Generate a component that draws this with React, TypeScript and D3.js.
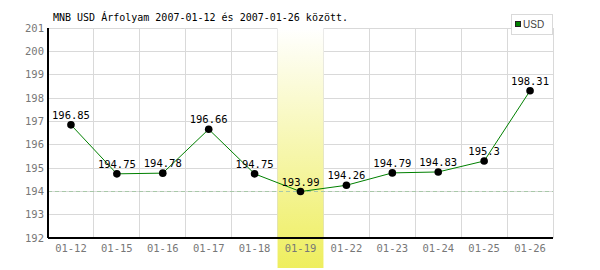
import React from "react";
import * as d3 from "d3";

const categories = ["01-12", "01-15", "01-16", "01-17", "01-18", "01-19", "01-22", "01-23", "01-24", "01-25", "01-26"];
const values = [196.85, 194.75, 194.78, 196.66, 194.75, 193.99, 194.26, 194.79, 194.83, 195.3, 198.31];
const valueLabels = ["196.85", "194.75", "194.78", "196.66", "194.75", "193.99", "194.26", "194.79", "194.83", "195.3", "198.31"];
const yTicks = [192, 193, 194, 195, 196, 197, 198, 199, 200, 201];
const highlightCategory = "01-19";
const referenceValue = 194;
const title = "MNB USD Árfolyam 2007-01-12 és 2007-01-26 között.";
const seriesName = "USD";

export default function App() {
  const W = 600, H = 270;
  const left = 48, right = 553, top = 28, bottom = 238;
  const x = d3.scaleBand<string>().domain(categories).range([left, right]);
  const y = d3.scaleLinear().domain([192, 201]).range([bottom, top]);
  const cx = (c: string) => (x(c) as number) + x.bandwidth() / 2;
  const line = d3.line<number>().x((_, i) => cx(categories[i])).y((v) => y(v));
  const mono = "DejaVu Sans Mono, monospace";
  const hx = x(highlightCategory) as number;
  return (
    <svg width={W} height={H} style={{ position: "absolute", left: 0, top: 0, background: "#fff" }}>
      <defs>
        <linearGradient id="hl" x1="0" y1="0" x2="0" y2="1">
          <stop offset="0%" stopColor="#ffffff" />
          <stop offset="100%" stopColor="#eeee5e" />
        </linearGradient>
      </defs>
      <rect x={0} y={0} width={W} height={H} fill="#fff" />
      {yTicks.map((t) => (
        <line key={"gy" + t} x1={left} x2={right} y1={y(t)} y2={y(t)} stroke="#d9d9d9" strokeWidth={1} shapeRendering="crispEdges" />
      ))}
      {categories.map((c) => (
        <line key={"gx" + c} x1={(x(c) as number) + x.bandwidth()} x2={(x(c) as number) + x.bandwidth()} y1={top} y2={bottom} stroke="#d9d9d9" strokeWidth={1} shapeRendering="crispEdges" />
      ))}
      <rect x={hx} y={top} width={x.bandwidth()} height={H - top - 2} fill="url(#hl)" />
      <line x1={left} x2={right} y1={y(referenceValue)} y2={y(referenceValue)} stroke="#a8c8a8" strokeDasharray="4,3" strokeWidth={1} shapeRendering="crispEdges" />
      <line x1={left} x2={left} y1={top} y2={bottom} stroke="#000" strokeWidth={1.5} shapeRendering="crispEdges" />
      <line x1={left} x2={right} y1={bottom} y2={bottom} stroke="#000" strokeWidth={1.5} shapeRendering="crispEdges" />
      {yTicks.map((t) => (
        <text key={"ty" + t} x={left - 4} y={y(t)} dy="0.35em" textAnchor="end" fontFamily={mono} fontSize={10.5} fill="#777">{t}</text>
      ))}
      {categories.map((c) => (
        <text key={"tx" + c} x={cx(c)} y={248} dy="0.35em" textAnchor="middle" fontFamily={mono} fontSize={10.5} fill="#777">{c}</text>
      ))}
      <path d={line(values) || ""} fill="none" stroke="#008000" strokeWidth={1} />
      {values.map((v, i) => (
        <circle key={"p" + i} cx={cx(categories[i])} cy={y(v)} r={3.8} fill="#000" />
      ))}
      {values.map((v, i) => (
        <text key={"l" + i} x={cx(categories[i])} y={y(v) - 6} textAnchor="middle" fontFamily={mono} fontSize={10.5} fill="#000">{valueLabels[i]}</text>
      ))}
      <text x={53} y={17} dy="0.35em" fontFamily={mono} fontSize={10} fill="#000">{title}</text>
      <rect x={511.5} y={14.5} width={41} height={20} fill="#fff" stroke="#d9d9d9" />
      <rect x={515.5} y={21.5} width={5} height={5} fill="#008000" stroke="#222" />
      <text x={523} y={24.5} dy="0.35em" fontFamily="Liberation Sans, Arial, sans-serif" fontSize={10} fill="#444">{seriesName}</text>
    </svg>
  );
}
